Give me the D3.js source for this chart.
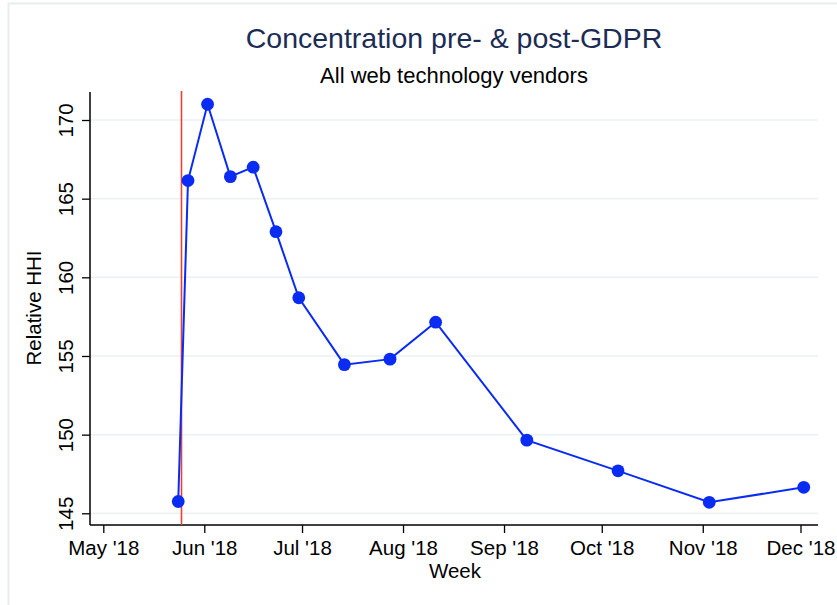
<!DOCTYPE html>
<html>
<head>
<meta charset="utf-8">
<script src="https://cdn.jsdelivr.net/npm/d3@7"></script>
<style>
  html, body { margin: 0; padding: 0; background: #fff; }
  svg { display: block; font-family: "Liberation Sans", Arial, sans-serif; }
</style>
</head>
<body>
<div id="chart"></div>
<script>
const weeks = ["2018-05-24", "2018-05-27", "2018-06-02", "2018-06-09", "2018-06-16", "2018-06-23",
  "2018-06-30", "2018-07-14", "2018-07-28", "2018-08-11", "2018-09-08", "2018-10-06",
  "2018-11-03", "2018-12-02"];
const hhi = [145.75, 166.15, 171.0, 166.4, 167.0, 162.9, 158.7, 154.45, 154.8, 157.15,
  149.65, 147.7, 145.7, 146.65];
const yTicks = [145, 150, 155, 160, 165, 170];
const xTicks = ["2018-05-01", "2018-06-01", "2018-07-01", "2018-08-01", "2018-09-01",
  "2018-10-01", "2018-11-01", "2018-12-01"];
const gdprDate = "2018-05-25";

const width = 837, height = 605;
const font = "Liberation Sans, Arial, sans-serif";
const parse = d3.utcParse("%Y-%m-%d");
const data = weeks.map((w, i) => ({ date: parse(w), value: hhi[i] }));

const svg = d3.select("#chart").append("svg")
  .attr("width", width)
  .attr("height", height);

// faint outer frame
svg.append("path")
  .attr("d", `M8.5,${height} V3.5 H${width}`)
  .attr("fill", "none")
  .attr("stroke", "#e6eef0")
  .attr("stroke-width", 2);

const plotLeft = 90, plotRight = 818, plotTop = 92, plotBottom = 525;

const x = d3.scaleUtc()
  .domain([parse("2018-05-01"), parse("2018-12-01")])
  .range([103.3, 800.5]);

const y = d3.scaleLinear()
  .domain([145, 170])
  .range([513.3, 120]);

// gridlines
svg.append("g")
  .selectAll("line")
  .data(yTicks)
  .join("line")
  .attr("x1", plotLeft)
  .attr("x2", plotRight)
  .attr("y1", d => y(d))
  .attr("y2", d => y(d))
  .attr("stroke", "#eaf1f3")
  .attr("stroke-width", 1.5);

// y axis
const yAxis = svg.append("g")
  .attr("transform", `translate(${plotLeft},0)`)
  .call(d3.axisLeft(y).tickValues(yTicks).tickSize(8).tickSizeOuter(0).tickFormat(d3.format("d")))
  .attr("font-family", font);
yAxis.select(".domain").remove();
yAxis.selectAll(".tick line").attr("stroke", "#000").attr("stroke-width", 1.3);
yAxis.selectAll(".tick text")
  .attr("font-size", 20.5)
  .attr("fill", "#000")
  .attr("text-anchor", "middle")
  .attr("transform", "rotate(-90)")
  .attr("x", 0)
  .attr("y", -17)
  .attr("dy", 0);

// x axis
const xAxis = svg.append("g")
  .attr("transform", `translate(0,${plotBottom})`)
  .call(d3.axisBottom(x).tickValues(xTicks.map(parse)).tickSize(8).tickFormat(d3.utcFormat("%b '%y")))
  .attr("font-family", font);
xAxis.select(".domain").remove();
xAxis.selectAll(".tick line").attr("stroke", "#000").attr("stroke-width", 1.3);
xAxis.selectAll(".tick text")
  .attr("font-size", 20.5)
  .attr("fill", "#000")
  .attr("y", 30)
  .attr("dy", 0);

// axis lines
svg.append("line")
  .attr("x1", plotLeft).attr("x2", plotLeft)
  .attr("y1", plotTop).attr("y2", plotBottom)
  .attr("stroke", "#000").attr("stroke-width", 1.5);
svg.append("line")
  .attr("x1", plotLeft).attr("x2", plotRight)
  .attr("y1", plotBottom).attr("y2", plotBottom)
  .attr("stroke", "#000").attr("stroke-width", 1.5);

// GDPR line
svg.append("line")
  .attr("x1", x(parse(gdprDate))).attr("x2", x(parse(gdprDate)))
  .attr("y1", plotTop - 1).attr("y2", plotBottom)
  .attr("stroke", "#e8413a")
  .attr("stroke-width", 1.6);

// series
const line = d3.line()
  .x(d => x(d.date))
  .y(d => y(d.value));

svg.append("path")
  .datum(data)
  .attr("d", line)
  .attr("fill", "none")
  .attr("stroke", "#0a2cf2")
  .attr("stroke-width", 2);

svg.append("g")
  .selectAll("circle")
  .data(data)
  .join("circle")
  .attr("cx", d => x(d.date))
  .attr("cy", d => y(d.value))
  .attr("r", 6.4)
  .attr("fill", "#0a2cf2");

// titles
svg.append("text")
  .attr("x", 454).attr("y", 48)
  .attr("text-anchor", "middle")
  .attr("font-size", 28.5)
  .attr("fill", "#1c2d55")
  .text("Concentration pre- & post-GDPR");

svg.append("text")
  .attr("x", 454).attr("y", 83)
  .attr("text-anchor", "middle")
  .attr("font-size", 22)
  .attr("fill", "#000")
  .text("All web technology vendors");

svg.append("text")
  .attr("transform", `translate(41,308) rotate(-90)`)
  .attr("text-anchor", "middle")
  .attr("font-size", 20.5)
  .attr("fill", "#000")
  .text("Relative HHI");

svg.append("text")
  .attr("x", 455).attr("y", 578)
  .attr("text-anchor", "middle")
  .attr("font-size", 20.5)
  .attr("fill", "#000")
  .text("Week");
</script>
</body>
</html>
